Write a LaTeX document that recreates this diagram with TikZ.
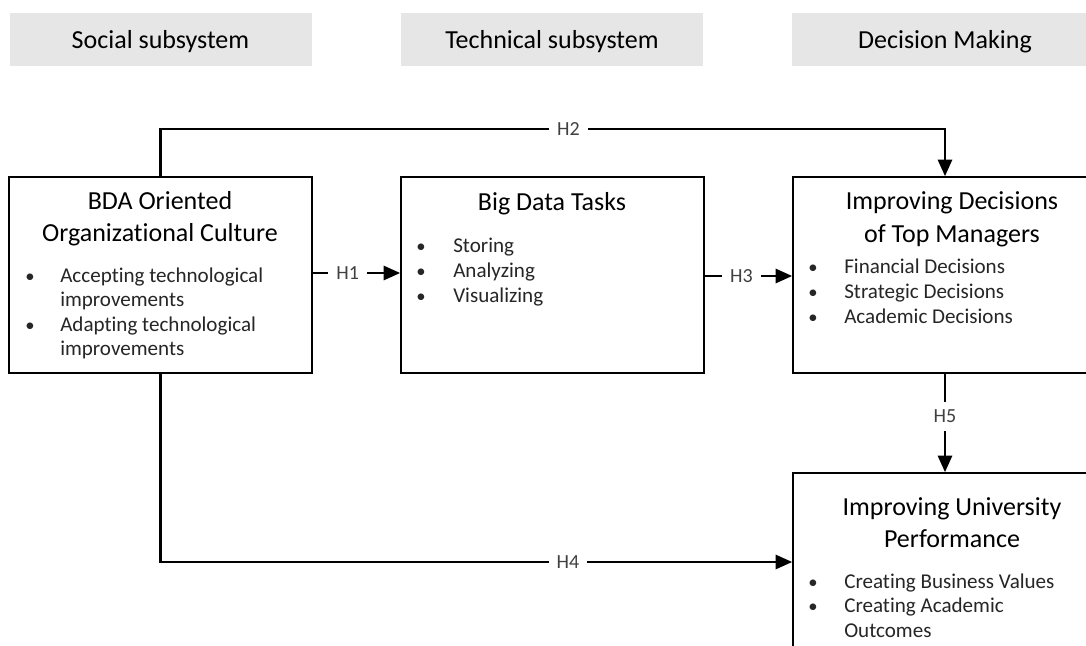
\documentclass[tikz,border=0pt]{standalone}
\usepackage{fontspec}
\setmainfont{Carlito}[Ligatures=NoCommon]
\usetikzlibrary{arrows.meta}
\definecolor{hdrgray}{HTML}{E7E6E6}
\definecolor{bodytext}{HTML}{262626}
\definecolor{lbltext}{HTML}{404040}
\begin{document}
\begin{tikzpicture}[x=0.75pt,y=-0.75pt,
  hdrbox/.style={fill=hdrgray, draw=none, minimum width=302*0.75pt, minimum height=53*0.75pt,
     inner sep=0pt, text height=13.2pt, text depth=0pt, font=\fontsize{19.5}{23}\selectfont},
  mainbox/.style={draw=black, line width=1.1pt, fill=white, inner sep=0pt},
  ttl/.style={anchor=base, inner sep=0pt, font=\fontsize{19.5}{24}\selectfont},
  itm/.style={anchor=base west, inner sep=0pt, text=bodytext, font=\fontsize{15.8}{19}\selectfont},
  bul/.style={anchor=base, inner sep=0pt, text=bodytext, font=\fontsize{14}{17}\selectfont},
  arr/.style={line width=2.2pt, -{Triangle[length=12.5pt,width=10.5pt]}},
  lbl/.style={fill=white, text=lbltext, inner xsep=6pt, inner ysep=2pt, font=\fontsize{15}{17}\selectfont}
]
\clip (0,0) rectangle (1086,646);

% headers
\node[hdrbox] (h1) at (160.5,39.5) {Social subsystem};
\node[hdrbox] (h2) at (552,39.5) {Technical subsystem};
\node[hdrbox, minimum width=320*0.75pt] (h3) at (952,39.5) {};
\node[anchor=base, inner sep=0pt, font=\fontsize{19.5}{23}\selectfont] (h3t) at (945,48) {Decision Making};

% main boxes
\node[mainbox, minimum width=303*0.75pt, minimum height=196*0.75pt] (b1) at (160.5,275) {};
\node[mainbox, minimum width=303*0.75pt, minimum height=196*0.75pt] (b2) at (552.5,275) {};
\node[mainbox, minimum width=322*0.75pt, minimum height=196*0.75pt] (b3) at (954,275) {};
\node[mainbox, minimum width=322*0.75pt, minimum height=217*0.75pt] (b4) at (954,581.5) {};

% box 1 text
\node[ttl] (t1a) at (160,209) {BDA Oriented};
\node[ttl] (t1b) at (160,241) {Organizational Culture};
\node[bul] (u1a) at (30,282) {•};
\node[itm] (i1a) at (60,282) {Accepting technological};
\node[itm] (i1b) at (60,306) {improvements};
\node[bul] (u1c) at (30,331) {•};
\node[itm] (i1c) at (60,331) {Adapting technological};
\node[itm] (i1d) at (60,355) {improvements};

% box 2 text
\node[ttl] (t2a) at (552,210) {Big Data Tasks};
\node[bul] (u2a) at (421,252) {•};
\node[itm] (i2a) at (453,252) {Storing};
\node[bul] (u2b) at (421,277) {•};
\node[itm] (i2b) at (453,277) {Analyzing};
\node[bul] (u2c) at (421,302) {•};
\node[itm] (i2c) at (453,302) {Visualizing};

% box 3 text
\node[ttl] (t3a) at (952,209) {Improving Decisions};
\node[ttl] (t3b) at (952,242) {of Top Managers};
\node[bul] (u3a) at (813,273) {•};
\node[itm] (i3a) at (844,273) {Financial Decisions};
\node[bul] (u3b) at (813,298) {•};
\node[itm] (i3b) at (844,298) {Strategic Decisions};
\node[bul] (u3c) at (813,323) {•};
\node[itm] (i3c) at (844,323) {Academic Decisions};

% box 4 text
\node[ttl] (t4a) at (952,515) {Improving University};
\node[ttl] (t4b) at (952,547) {Performance};
\node[bul] (u4a) at (813,588) {•};
\node[itm] (i4a) at (844,588) {Creating Business Values};
\node[bul] (u4b) at (813,612) {•};
\node[itm] (i4b) at (844,612) {Creating Academic};
\node[itm] (i4c) at (844,637) {Outcomes};

% helper coordinates
\coordinate (yh1) at (0,273);
\coordinate (yh3) at (0,276);
\coordinate (yh2) at (0,129);
\coordinate (yh4) at (0,562);
\coordinate (xv) at (945,0);
\coordinate (xl) at (160.5,0);

% connectors
\draw[arr] (b1.east |- yh1) -- node[lbl, pos=0.4] (l1) {H1} (b2.west |- yh1);
\draw[arr] (b2.east |- yh3) -- node[lbl, pos=0.42] (l3) {H3} (b3.west |- yh3);
\draw[arr] (b1.north) -- (xl |- yh2) -- node[lbl, pos=0.52] (l2) {H2} (xv |- yh2) -- (b3.north -| xv);
\draw[arr] (b1.south) -- (xl |- yh4) -- node[lbl, pos=0.645] (l4) {H4} (b4.west |- yh4);
\draw[arr] (b3.south -| xv) -- node[lbl, pos=0.43, inner ysep=6pt] (l5) {H5} (b4.north -| xv);
\end{tikzpicture}
\end{document}
